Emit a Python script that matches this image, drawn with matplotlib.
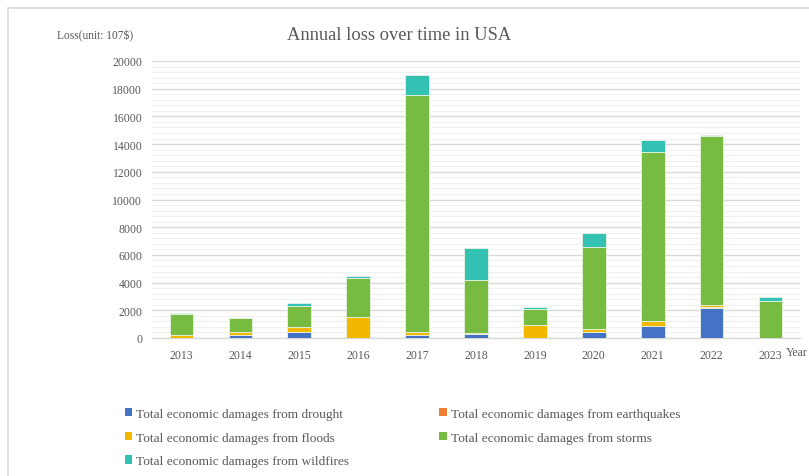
import matplotlib
matplotlib.use("Agg")
import matplotlib.pyplot as plt
from matplotlib.patches import Rectangle, Patch
import numpy as np

years = ["2013", "2014", "2015", "2016", "2017", "2018", "2019", "2020", "2021", "2022", "2023"]
drought =     [0,    240,  430,  0,    220,   260,  0,    410,  890,   2170,  0]
earthquakes = [0,    0,    0,    0,    0,     40,   0,    0,    0,     60,    0]
floods =      [220,  170,  340,  1520, 190,   80,   960,  270,  360,   130,   0]
storms =      [1500, 1010, 1570, 2790, 17120, 3830, 1160, 5860, 12190, 12210, 2650]
wildfires =   [80,   50,   220,  140,  1490,  2260, 140,  1060, 820,   70,    290]

series_names = [
    "Total economic damages from drought",
    "Total economic damages from earthquakes",
    "Total economic damages from floods",
    "Total economic damages from storms",
    "Total economic damages from wildfires",
]
colors = ["#4472C4", "#ED7D31", "#F2B800", "#77BC40", "#33C1B3"]

plt.rcParams['font.family'] = ['Liberation Serif', 'DejaVu Serif']
txt = "#595959"

fig = plt.figure(figsize=(8.09, 4.77), dpi=100)
fig.patch.set_facecolor("white")

# outer frame
fig.patches.append(Rectangle((8/809, -0.05), 1.2, 1 - 9/477 + 0.05, transform=fig.transFigure,
                             fill=False, edgecolor="#D9D9D9", linewidth=1.2))

ax = fig.add_axes([152/809, 1 - 339/477, 648/809, 277/477])
x = np.arange(len(years))
data = [drought, earthquakes, floods, storms, wildfires]
bottom = np.zeros(len(years))
for vals, col, name in zip(data, colors, series_names):
    v = np.array(vals, dtype=float)
    ax.bar(x, v, width=0.4, bottom=bottom, color=col, edgecolor="#EAF3E4", linewidth=0.6,
           label=name, zorder=3)
    bottom += v

ax.set_xlim(-0.5, len(years) - 0.5)
ax.set_ylim(0, 20000)
ax.set_yticks(np.arange(0, 20001, 2000))
ax.set_yticks(np.arange(0, 20001, 400), minor=True)
ax.set_yticklabels([str(v) for v in range(0, 20001, 2000)])
ax.set_xticks(x)
ax.set_xticklabels(years)
ax.grid(axis="y", which="major", color="#D9D9D9", linewidth=1.0, zorder=0)
ax.grid(axis="y", which="minor", color="#F0F0F0", linewidth=0.8, zorder=0)
ax.tick_params(axis="both", which="both", length=0, labelsize=8.5, labelcolor=txt)
ax.tick_params(axis="y", pad=7)
ax.tick_params(axis="x", pad=8)
for s in ["top", "right", "left"]:
    ax.spines[s].set_visible(False)
ax.spines["bottom"].set_color("#D9D9D9")
ax.spines["bottom"].set_linewidth(1.0)

fig.text(399.5/809, 1 - 36/477, "Annual loss over time in USA", ha="center", va="center",
         fontsize=13.3, color=txt)
fig.text(95/809, 1 - 36/477, "Loss(unit: 107$)", ha="center", va="center", fontsize=8.3, color=txt)
fig.text(786/809, 1 - 353/477, "Year", ha="left", va="center", fontsize=8.5, color=txt)

handles = [Patch(facecolor=c, edgecolor="none") for c in colors]
order = [0, 2, 4, 1, 3]
leg = fig.legend([handles[i] for i in order], [series_names[i] for i in order], ncol=2,
                 loc="upper left", bbox_to_anchor=(113/809, 1 - 397/477), frameon=False,
                 fontsize=9.6, handlelength=0.55, handleheight=0.55, handletextpad=0.3,
                 columnspacing=6.75, labelspacing=0.87, labelcolor=txt)

fig.savefig("out.png", dpi=100, facecolor="white")
